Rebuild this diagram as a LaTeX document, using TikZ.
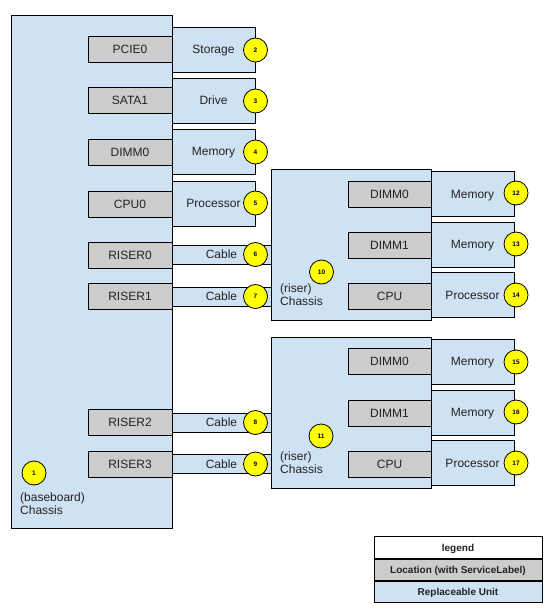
\documentclass[tikz,border=0pt]{standalone}
\usepackage{fontspec}
\setmainfont{Liberation Sans}
\definecolor{unitblue}{HTML}{CFE2F3}
\definecolor{locgray}{HTML}{CCCCCC}
\definecolor{badge}{HTML}{FFFF00}
\definecolor{txt}{HTML}{222222}
\begin{document}
\begin{tikzpicture}[x=1pt,y=-1pt,
  box/.style={draw=black,line width=0.8pt,inner sep=0pt,outer sep=0pt,text=txt,font=\fontsize{12}{13}\selectfont,text height=8.6pt,text depth=0pt},
  unit/.style={box,fill=unitblue},
  loc/.style={box,fill=locgray,minimum width=84pt,minimum height=26pt},
  ru/.style={unit,minimum width=83pt,minimum height=45pt},
  cable/.style={unit,minimum width=99pt,minimum height=19pt},
  chassis/.style={unit,minimum width=160pt,minimum height=151pt},
  num/.style={circle,draw=black,line width=0.8pt,fill=badge,minimum size=24pt,inner sep=0pt,font=\fontsize{6.5}{7}\selectfont\bfseries},
  lbl/.style={align=left,anchor=north west,inner sep=0pt,text=txt,font=\fontsize{12}{13}\selectfont},
  leg/.style={draw=black,line width=0.8pt,inner sep=0pt,minimum width=168pt,minimum height=21.3pt,font=\fontsize{10}{11}\selectfont\bfseries,text=txt,text height=7.2pt,text depth=0pt}
]
\useasboundingbox (0,0) rectangle (555,612);

% baseboard chassis
\node[unit,minimum width=161pt,minimum height=513pt] (base) at (91.5,271.5) {};

% right-hand replaceable units of baseboard
\node[ru] (storage) at (213.5,49.5) {Storage};
\node[ru] (drive) at (213.5,100.5) {Drive};
\node[ru] (memory) at (213.5,151.5) {Memory};
\node[ru] (processor) at (213.5,203.5) {Processor};

% locations on baseboard
\node[loc] (pcie0) at (130,49) {PCIE0};
\node[loc] (sata1) at (130,100.5) {SATA1};
\node[loc] (dimm0) at (130,152) {DIMM0};
\node[loc] (cpu0) at (130,204) {CPU0};
\node[loc] (riser0) at (130,255) {RISER0};
\node[loc] (riser1) at (130,296.5) {RISER1};
\node[loc] (riser2) at (130,422) {RISER2};
\node[loc] (riser3) at (130,464) {RISER3};

% cables
\node[cable] (cable6) at (221.5,254.5) {Cable};
\node[cable] (cable7) at (221.5,296.5) {Cable};
\node[cable] (cable8) at (221.5,422.5) {Cable};
\node[cable] (cable9) at (221.5,464) {Cable};

% riser chassis 1
\node[chassis] (rc1) at (351,244.5) {};
\node[ru] (mem12) at (472.5,194) {Memory};
\node[ru] (mem13) at (472.5,244.5) {Memory};
\node[ru] (proc14) at (472.5,295) {Processor};
\node[loc,minimum width=83pt] (r1dimm0) at (389.5,194) {DIMM0};
\node[loc,minimum width=83pt] (r1dimm1) at (389.5,245) {DIMM1};
\node[loc,minimum width=83pt] (r1cpu) at (389.5,296.5) {CPU};
\node[lbl] (rc1lbl) at (280,284) {(riser)\\Chassis};

% riser chassis 2
\node[chassis] (rc2) at (351,412.5) {};
\node[ru] (mem15) at (472.5,361.5) {Memory};
\node[ru] (mem16) at (472.5,412.5) {Memory};
\node[ru] (proc17) at (472.5,463) {Processor};
\node[loc,minimum width=83pt] (r2dimm0) at (389.5,361.5) {DIMM0};
\node[loc,minimum width=83pt] (r2dimm1) at (389.5,413.5) {DIMM1};
\node[loc,minimum width=83pt] (r2cpu) at (389.5,464) {CPU};
\node[lbl] (rc2lbl) at (280,452) {(riser)\\Chassis};

% baseboard label
\node[lbl] (baselbl) at (20,493) {(baseboard)\\Chassis};

% numbered badges
\node[num] (n1) at (34,473) {1};
\node[num] (n2) at (255.5,50) {2};
\node[num] (n3) at (255.5,101) {3};
\node[num] (n4) at (255.5,152) {4};
\node[num] (n5) at (255.5,203) {5};
\node[num] (n6) at (255.5,254.5) {6};
\node[num] (n7) at (255.5,296.5) {7};
\node[num] (n8) at (255.5,422.5) {8};
\node[num] (n9) at (255.5,464) {9};
\node[num] (n10) at (321.5,272) {10};
\node[num] (n11) at (321,436) {11};
\node[num] (n12) at (516,193) {12};
\node[num] (n13) at (516,244) {13};
\node[num] (n14) at (516,295) {14};
\node[num] (n15) at (516,362) {15};
\node[num] (n16) at (516,412) {16};
\node[num] (n17) at (516,463) {17};

% legend
\node[leg,fill=white] (leg1) at (458,547.5) {legend};
\node[leg,fill=locgray,anchor=north] (leg2) at (leg1.south) {Location (with ServiceLabel)};
\node[leg,fill=unitblue,anchor=north] (leg3) at (leg2.south) {Replaceable Unit};
\end{tikzpicture}
\end{document}
